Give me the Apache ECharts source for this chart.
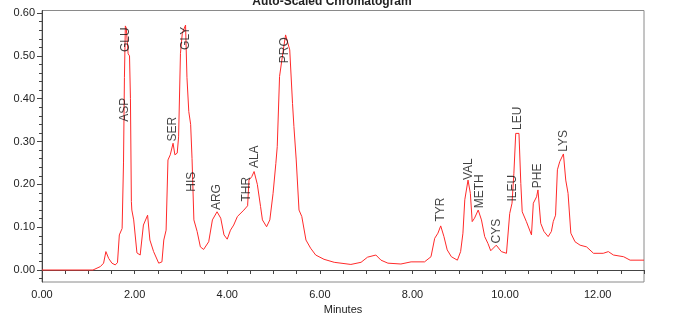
<!DOCTYPE html>
<html>
<head>
<meta charset="utf-8">
<script src="https://cdn.jsdelivr.net/npm/echarts@6/dist/echarts.min.js"></script>
<style>
  html, body { margin: 0; padding: 0; background: #ffffff; }
  #chart { width: 685px; height: 316px; }
</style>
</head>
<body>
<div id="chart"></div>
<script>
// retention time (min) and absorbance (AU)
const times = [
  0.00, 1.10, 1.26, 1.33, 1.38, 1.44, 1.51, 1.58, 1.63, 1.67, 1.73, 1.76, 1.78, 1.80, 1.82,
  1.86, 1.89, 1.91, 1.93, 1.94, 1.98, 2.05, 2.12, 2.19, 2.28, 2.33, 2.41, 2.52, 2.59, 2.63,
  2.68, 2.72, 2.77, 2.83, 2.87, 2.92, 2.95, 2.99, 3.03, 3.10, 3.13, 3.17, 3.21, 3.24, 3.28,
  3.35, 3.42, 3.49, 3.60, 3.68, 3.78, 3.86, 3.93, 4.00, 4.07, 4.14, 4.22, 4.36, 4.44, 4.47,
  4.53, 4.58, 4.65, 4.72, 4.76, 4.85, 4.92, 4.99, 5.05, 5.08, 5.13, 5.20, 5.26, 5.35, 5.41,
  5.44, 5.49, 5.55, 5.61, 5.70, 5.80, 5.91, 6.09, 6.31, 6.67, 6.89, 7.03, 7.21, 7.32, 7.47,
  7.75, 7.97, 8.26, 8.40, 8.48, 8.55, 8.61, 8.68, 8.75, 8.84, 8.97, 9.04, 9.09, 9.13, 9.20,
  9.25, 9.29, 9.34, 9.42, 9.49, 9.56, 9.63, 9.69, 9.81, 9.92, 10.03, 10.10, 10.15, 10.19, 10.23,
  10.30, 10.34, 10.37, 10.46, 10.57, 10.61, 10.68, 10.71, 10.77, 10.84, 10.93, 11.00, 11.04, 11.09, 11.13,
  11.18, 11.26, 11.31, 11.36, 11.42, 11.51, 11.62, 11.76, 11.91, 12.12, 12.23, 12.34, 12.56, 12.70, 13.00
]
const absorbance = [
  0.000, 0.000, 0.008, 0.016, 0.043, 0.027, 0.016, 0.012, 0.017, 0.082, 0.097, 0.250, 0.450, 0.570, 0.565,
  0.505, 0.500, 0.400, 0.160, 0.140, 0.117, 0.040, 0.035, 0.105, 0.128, 0.070, 0.043, 0.016, 0.019, 0.070,
  0.093, 0.257, 0.269, 0.296, 0.269, 0.273, 0.311, 0.506, 0.553, 0.572, 0.450, 0.370, 0.340, 0.260, 0.117,
  0.090, 0.054, 0.048, 0.066, 0.117, 0.136, 0.121, 0.082, 0.072, 0.093, 0.105, 0.125, 0.140, 0.150, 0.210,
  0.218, 0.230, 0.200, 0.148, 0.117, 0.101, 0.117, 0.179, 0.249, 0.288, 0.452, 0.506, 0.549, 0.514, 0.389,
  0.335, 0.257, 0.140, 0.125, 0.070, 0.051, 0.035, 0.025, 0.018, 0.013, 0.018, 0.030, 0.035, 0.023, 0.016,
  0.014, 0.019, 0.019, 0.031, 0.074, 0.086, 0.103, 0.078, 0.047, 0.031, 0.023, 0.043, 0.086, 0.164, 0.210,
  0.179, 0.113, 0.121, 0.140, 0.117, 0.078, 0.062, 0.045, 0.058, 0.043, 0.039, 0.132, 0.156, 0.226, 0.319,
  0.319, 0.202, 0.136, 0.113, 0.082, 0.156, 0.171, 0.187, 0.109, 0.090, 0.078, 0.090, 0.113, 0.128, 0.234,
  0.253, 0.271, 0.210, 0.179, 0.086, 0.066, 0.058, 0.054, 0.039, 0.039, 0.043, 0.035, 0.031, 0.023, 0.023
]

// peak names and where each label starts (its lower end)
const peakNames = ['ASP', 'GLU', 'SER', 'GLY', 'HIS', 'ARG', 'THR', 'ALA', 'PRO', 'TYR', 'VAL', 'METH', 'CYS', 'ILEU', 'LEU', 'PHE', 'LYS']
const peakTimes = [1.78, 1.81, 2.82, 3.11, 3.23, 3.78, 4.41, 4.60, 5.25, 8.61, 9.21, 9.45, 9.81, 10.16, 10.28, 10.70, 11.26]
const peakLabelAU = [0.346, 0.509, 0.300, 0.514, 0.183, 0.140, 0.160, 0.238, 0.483, 0.113, 0.210, 0.144, 0.062, 0.160, 0.327, 0.191, 0.276]

const yLabelTicks = [0, 0.1, 0.2, 0.3, 0.4, 0.5, 0.6]
const yMinorTicks = [-0.02, 0, 0.02, 0.04, 0.06, 0.08, 0.1, 0.12, 0.14, 0.16, 0.18, 0.2, 0.22, 0.24, 0.26, 0.28,
  0.3, 0.32, 0.34, 0.36, 0.38, 0.4, 0.42, 0.44, 0.46, 0.48, 0.5, 0.52, 0.54, 0.56, 0.58, 0.6]

const COLORS = {
  trace: '#ff2a2a',
  axis: '#444444',
  frame: '#8a8a8a',
  text: '#222222',
}
const FONT = 'Liberation Sans, Arial, sans-serif'
const Y_MIN = -0.028
const Y_MAX = 0.606

const chart = echarts.init(document.getElementById('chart'), null, { renderer: 'canvas' })

chart.setOption({
  animation: false,
  backgroundColor: '#ffffff',
  title: {
    text: 'Auto-Scaled Chromatogram',
    left: 327,
    textAlign: 'center',
    top: -9,
    textStyle: { fontSize: 12, fontWeight: 'bold', color: COLORS.text, fontFamily: FONT },
  },
  grid: {
    left: 42,
    right: 41,
    top: 10.5,
    bottom: 34,
    outerBoundsMode: 'none',
    containLabel: false,
    show: true,
    borderColor: COLORS.frame,
    borderWidth: 1,
  },
  xAxis: [
    {
      type: 'value',
      min: 0,
      max: 13,
      interval: 0.5,
      name: 'Minutes',
      nameLocation: 'middle',
      nameGap: 21,
      nameTextStyle: { fontSize: 11, color: COLORS.text, fontFamily: FONT },
      axisLine: { show: true, lineStyle: { color: COLORS.axis } },
      axisTick: { show: true, length: 4, lineStyle: { color: COLORS.axis } },
      axisLabel: {
        fontSize: 11,
        color: COLORS.text,
        fontFamily: FONT,
        margin: 7,
        formatter: (v) => (Math.abs(v % 2) < 1e-6 ? v.toFixed(2) : ''),
      },
      splitLine: { show: false },
    },
    {
      type: 'value',
      position: 'top',
      min: 0,
      max: 13,
      axisLine: { show: true, lineStyle: { color: COLORS.axis } },
      axisTick: { show: false },
      axisLabel: { show: false },
      splitLine: { show: false },
    },
  ],
  yAxis: [
    {
      type: 'value',
      min: Y_MIN,
      max: Y_MAX,
      name: 'AU',
      nameLocation: 'middle',
      nameGap: 29,
      nameTextStyle: { fontSize: 11, color: COLORS.text, fontFamily: FONT },
      axisLine: { show: true, lineStyle: { color: COLORS.axis } },
      axisTick: { show: true, length: 5, customValues: yLabelTicks, lineStyle: { color: COLORS.axis } },
      axisLabel: {
        fontSize: 11,
        color: COLORS.text,
        fontFamily: FONT,
        margin: 7,
        customValues: yLabelTicks,
        formatter: (v) => v.toFixed(2),
      },
      splitLine: { show: false },
    },
    {
      // short ticks every 0.02
      type: 'value',
      position: 'left',
      min: Y_MIN,
      max: Y_MAX,
      axisLine: { show: false },
      axisTick: { show: true, length: 3, customValues: yMinorTicks, lineStyle: { color: COLORS.axis } },
      axisLabel: { show: false },
      splitLine: { show: false },
    },
  ],
  series: [
    {
      name: 'Trace',
      type: 'line',
      data: times.map((t, i) => [t, absorbance[i]]),
      showSymbol: false,
      smooth: false,
      lineStyle: { color: COLORS.trace, width: 1 },
      z: 3,
    },
    {
      name: 'Peaks',
      type: 'scatter',
      data: peakTimes.map((t, i) => ({ value: [t, peakLabelAU[i]], name: peakNames[i] })),
      symbolSize: 0,
      silent: true,
      z: 4,
      label: {
        show: true,
        formatter: (p) => p.name,
        position: [0, 0],
        rotate: 90,
        align: 'left',
        verticalAlign: 'middle',
        fontSize: 12,
        color: '#111111',
        fontFamily: FONT,
      },
    },
  ],
})
</script>
</body>
</html>
